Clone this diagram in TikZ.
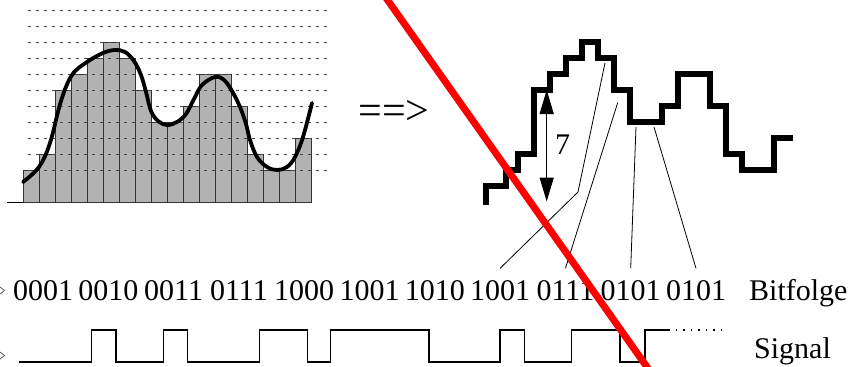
\documentclass[tikz,border=0pt]{standalone}
\usepackage{fontspec}
\setmainfont{Liberation Serif}
\usetikzlibrary{arrows.meta}
\tikzset{
  bar/.style={draw=black!80, line width=0.8pt, fill=black!30},
  gridline/.style={draw=black!70, line width=0.9pt, dash pattern=on 3pt off 5pt},
  sample/.style={line width=3.8pt, line cap=round},
  stair/.style={line width=6.2pt},
  bits/.style={font=\fontsize{30}{34}\selectfont, anchor=base, inner xsep=0pt, inner ysep=11.5pt},
  caption/.style={font=\fontsize{30}{34}\selectfont, anchor=base west, inner sep=0pt},
  pointer/.style={line width=0.8pt},
  sig/.style={line width=1.3pt},
  measure/.style={line width=1.3pt, {Triangle[length=24pt,width=14pt]}-{Triangle[length=24pt,width=14pt]}}
}

\begin{document}
\begin{tikzpicture}[x=1pt, y=-1pt]
  \useasboundingbox (0,0) rectangle (855,367);

  % sampled signal
  \draw[line width=0.8pt] (7,202) -- (311,202);
  \foreach \h [count=\i] in {2,3,7,8,9,10,9,7,5,5,6,8,8,6,3,2,2,4}
    \draw[bar] ({23+16*(\i-1)},202) rectangle ++(16,{-16*\h});
  \foreach \k in {2,...,12}
    \draw[gridline] (28,{202-16*\k}) -- (330,{202-16*\k});
  \draw[sample] plot[smooth, tension=0.6] coordinates {
    (23,182) (39,167) (50,143) (61,101) (72,75) (87,62) (103,53) (115,50)
    (125,52) (134,61) (141,75) (146,92) (151,111) (158,121) (167,125)
    (177,122) (186,114) (194,99) (202,85) (215,77) (224,80) (232,91)
    (240,107) (246,124) (250,140) (257,157) (267,167) (277,170) (287,167)
    (295,157) (303,137) (312,103)};

  \node[font=\fontsize{42}{46}\selectfont, inner sep=0pt] (impl) at (394,112) {==>};

  % quantised steps
  \draw[stair] (486,205) |- (506,186) |- (518,170) |- (534,154) |- (550,90)
    |- (566,74) |- (582,58) |- (598,42) |- (614,58) |- (630,90) |- (662,122)
    |- (678,106) |- (710,74) |- (726,106) |- (742,154) |- (774,170) |- (793,138);

  \coordinate (t7) at (546.7,90);
  \coordinate (b7) at (546.7,201.5);
  \draw[measure] (t7) -- (b7);
  \node[font=\fontsize{30}{34}\selectfont, inner sep=0pt] (seven) at (562.7,145) {7};

  % bit sequence
  \foreach \b [count=\i] in {0001,0010,0011,0111,1000,1001,1010,1001,0111,0101,0101}
    \node[bits] (g\i) at ({43+65.3*(\i-1)},300) {\b};
  \node[caption] (bitf) at (749,300) {Bitfolge};

  \coordinate (p1) at (605,63);
  \coordinate (k1) at (578,192);
  \coordinate (p2) at (617.7,102.7);
  \coordinate (p3) at (636,127);
  \coordinate (p4) at (654,127);
  \draw[pointer] (p1) -- (k1) -- (g8.north);
  \draw[pointer] (p2) -- (g9.north);
  \draw[pointer] (p3) -- (g10.north);
  \draw[pointer] (p4) -- (g11.north);

  % line signal
  \draw[sig] (19,362) -- (91.7,362) |- (116,330) |- (163.3,362) |- (187.3,330)
    |- (259.3,362) |- (307.3,330) |- (330.7,362) |- (429,330) |- (500,362)
    |- (524.3,330) |- (571.7,362) |- (620,330) |- (645,362) |- (668.3,330);
  \draw[sig, dash pattern=on 1.5pt off 6pt] (668.3,330) -- (725,330);
  \node[caption] (signal) at (754,358.5) {Signal};

  \draw[line width=0.7pt, black!70] (0,287) -- (4.5,290.5) -- (0,294);
  \draw[line width=0.7pt, black!70] (0,352) -- (4.5,355.5) -- (0,359);

  \draw[red, line width=7pt] (383.3,-6) -- (651.2,373);
\end{tikzpicture}
\end{document}
